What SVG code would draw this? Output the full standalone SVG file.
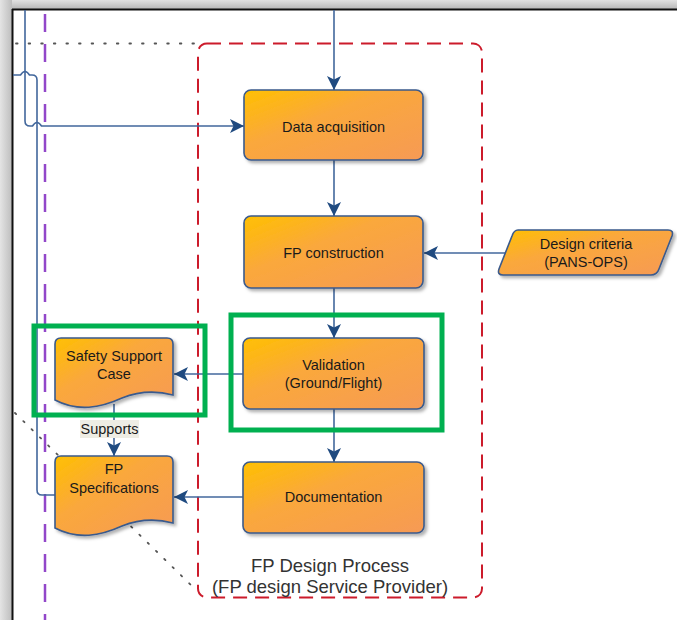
<svg xmlns="http://www.w3.org/2000/svg" width="677" height="620" viewBox="0 0 677 620">
<defs>
<linearGradient id="og" x1="0" y1="0" x2="1" y2="1">
<stop offset="0" stop-color="#FFC000"/>
<stop offset="0.4" stop-color="#FAA83C"/>
<stop offset="1" stop-color="#F69A55"/>
</linearGradient>
<linearGradient id="frameTop" x1="0" y1="0" x2="0" y2="1">
<stop offset="0" stop-color="#E2E2E2"/>
<stop offset="1" stop-color="#B8B8B8"/>
</linearGradient>
<linearGradient id="frameLeft" x1="0" y1="0" x2="1" y2="0">
<stop offset="0" stop-color="#E4E4E4"/>
<stop offset="1" stop-color="#BDBDBD"/>
</linearGradient>
<filter id="sh" x="-10%" y="-10%" width="125%" height="130%">
<feDropShadow dx="2.5" dy="2.5" stdDeviation="1.5" flood-color="#000" flood-opacity="0.3"/>
</filter>
<marker id="ah" viewBox="0 0 14 14" refX="14" refY="7" markerWidth="14" markerHeight="14" markerUnits="userSpaceOnUse" orient="auto">
<path d="M0,0 L14,7 L0,14 L3.5,7 Z" fill="#1F4A80"/>
</marker>
</defs>
<style>
.node{fill:url(#og);stroke:#3A5A8C;stroke-width:1.6;filter:url(#sh)}
.lbl{font-family:"Liberation Sans",Arial,sans-serif;font-size:14.5px;fill:#1A1A1A;text-anchor:middle}
.ttl{font-family:"Liberation Sans",Arial,sans-serif;font-size:18.5px;fill:#333;text-anchor:middle}
.con{fill:none;stroke:#42679C;stroke-width:1.6}
.green{fill:none;stroke:#00B050;stroke-width:5}
</style>
<rect x="0" y="0" width="677" height="620" fill="#fff"/>
<!-- frame -->
<g id="frame">
<rect x="0" y="0" width="677" height="9" fill="url(#frameTop)"/>
<rect x="0" y="0" width="12" height="620" fill="url(#frameLeft)"/>
<line x1="12" y1="9.5" x2="677" y2="9.5" stroke="#111" stroke-width="2"/>
<line x1="12.5" y1="9" x2="12.5" y2="620" stroke="#111" stroke-width="2"/>
</g>
<!-- background guide lines -->
<g id="guides">
<line x1="16" y1="43.5" x2="196" y2="43.5" stroke="#555" stroke-width="1.8" stroke-dasharray="1.6 11" stroke-linecap="round"/>
<line x1="15" y1="413" x2="196" y2="590" stroke="#555" stroke-width="1.8" stroke-dasharray="1.6 10" stroke-linecap="round"/>
<line x1="45" y1="14" x2="45" y2="620" stroke="#9247C9" stroke-width="2.5" stroke-dasharray="18 12"/>
<rect id="fp-process" x="198" y="43.5" width="284" height="554" rx="9" fill="none" stroke="#CC1B2B" stroke-width="2" stroke-dasharray="14 8"/>
<text class="ttl" x="330" y="572">FP Design Process</text>
<text class="ttl" x="330" y="593">(FP design Service Provider)</text>
</g>
<!-- connectors -->
<g id="connectors">
<path class="con" d="M334,10 L334,90" marker-end="url(#ah)"/>
<path class="con" d="M334,160 L334,216" marker-end="url(#ah)"/>
<path class="con" d="M334,288 L334,338" marker-end="url(#ah)"/>
<path class="con" d="M334,409 L334,462" marker-end="url(#ah)"/>
<path class="con" d="M505,253 L424,253" marker-end="url(#ah)"/>
<path class="con" d="M243,374 L174,374" marker-end="url(#ah)"/>
<path class="con" d="M243,497 L174,497" marker-end="url(#ah)"/>
<path class="con" d="M114,404 L114,456" marker-end="url(#ah)"/>
<path class="con" d="M25,10 L25,121 Q25,126 30,126 L32.5,126 Q37,119 41.5,126 L244,126" marker-end="url(#ah)"/>
<path class="con" d="M13,75 L20.5,75 Q25,68 29.5,75 L32,75 Q37,75 37,80 L37,490 Q37,495 42,495 L55,495"/>
<rect x="80" y="420" width="59" height="18" fill="#EEEDE4"/>
<text class="lbl" x="109.5" y="434">Supports</text>
</g>
<!-- nodes -->
<g id="data-acquisition">
<rect class="node" x="244" y="90" width="179" height="70" rx="7"/>
<text class="lbl" x="333.5" y="132">Data acquisition</text>
</g>
<g id="fp-construction">
<rect class="node" x="244" y="216" width="179" height="72" rx="7"/>
<text class="lbl" x="333.5" y="258">FP construction</text>
</g>
<g id="validation">
<rect class="node" x="243" y="338" width="181" height="71" rx="7"/>
<text class="lbl" x="333.5" y="369.5">Validation</text>
<text class="lbl" x="333.5" y="387.5">(Ground/Flight)</text>
</g>
<g id="documentation">
<rect class="node" x="243" y="462" width="181" height="71" rx="7"/>
<text class="lbl" x="333.5" y="502">Documentation</text>
</g>
<g id="design-criteria">
<path class="node" d="M518,230 L668,230 Q674,230 672,236 L659,269 Q657,275 651,275 L503,275 Q497,275 499,269 L512,236 Q514,230 518,230 Z"/>
<text class="lbl" x="586" y="249">Design criteria</text>
<text class="lbl" x="586" y="267">(PANS-OPS)</text>
</g>
<g id="safety-support-case">
<path class="node" d="M61,338 L167,338 Q173,338 173,344 L173,395 C158,391 142,390 122,398 C100,408 78,412 55,400 L55,344 Q55,338 61,338 Z"/>
<text class="lbl" x="114" y="360.5">Safety Support</text>
<text class="lbl" x="114" y="378.5">Case</text>
</g>
<g id="fp-specifications">
<path class="node" d="M61,456 L167,456 Q173,456 173,462 L173,523 C158,519 142,518 122,526 C100,536 78,540 55,528 L55,462 Q55,456 61,456 Z"/>
<text class="lbl" x="114" y="473.5">FP</text>
<text class="lbl" x="114" y="492.5">Specifications</text>
</g>
<!-- highlight boxes -->
<g id="highlights">
<rect class="green" x="34" y="326" width="171" height="89"/>
<rect class="green" x="231" y="315" width="211" height="115"/>
</g>
</svg>
